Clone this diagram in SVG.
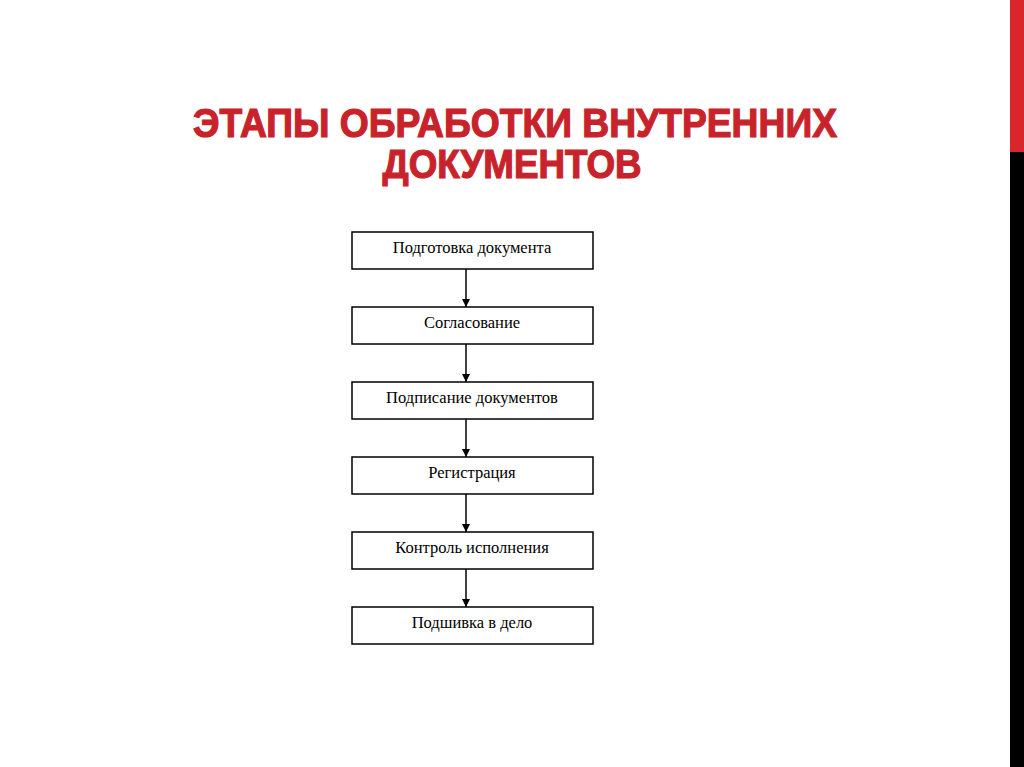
<svg xmlns="http://www.w3.org/2000/svg" width="1024" height="767" viewBox="0 0 1024 767">
<defs>
<style>
.box{fill:#fff;stroke:#000;stroke-width:1.5}
.lbl{font-family:"Liberation Serif","Times New Roman",serif;font-size:16.5px;fill:#000;text-anchor:middle}
.ttl{font-family:"Liberation Sans",Arial,sans-serif;font-weight:bold;font-size:40px;fill:#c8232b;stroke:#c8232b;stroke-width:1.2;text-anchor:middle}
.conn line{stroke:#000;stroke-width:1.5;marker-end:url(#ah)}
</style>
<marker id="ah" viewBox="0 0 10 10" refX="10" refY="5" markerWidth="8" markerHeight="8" markerUnits="userSpaceOnUse" orient="auto">
<path d="M0,0 L10,5 L0,10 z" fill="#000"/>
</marker>
</defs>
<rect width="1024" height="767" fill="#fff"/>
<rect x="1010" y="0" width="14" height="152" fill="#d9262b"/>
<rect x="1010" y="152" width="14" height="615" fill="#000"/>
<g id="title">
<text class="ttl" x="515" y="137" textLength="644" lengthAdjust="spacingAndGlyphs">ЭТАПЫ ОБРАБОТКИ ВНУТРЕННИХ</text>
<text class="ttl" x="512" y="178" textLength="259" lengthAdjust="spacingAndGlyphs">ДОКУМЕНТОВ</text>
</g>
<g id="connectors" class="conn">
<line x1="466" y1="269" x2="466" y2="307"/>
<line x1="466" y1="344" x2="466" y2="382"/>
<line x1="466" y1="419" x2="466" y2="457"/>
<line x1="466" y1="494" x2="466" y2="532"/>
<line x1="466" y1="569" x2="466" y2="607"/>
</g>
<g id="n1"><rect class="box" x="352" y="232" width="241" height="37"/><text class="lbl" x="472" y="253">Подготовка документа</text></g>
<g id="n2"><rect class="box" x="352" y="307" width="241" height="37"/><text class="lbl" x="472" y="328">Согласование</text></g>
<g id="n3"><rect class="box" x="352" y="382" width="241" height="37"/><text class="lbl" x="472" y="403">Подписание документов</text></g>
<g id="n4"><rect class="box" x="352" y="457" width="241" height="37"/><text class="lbl" x="472" y="478">Регистрация</text></g>
<g id="n5"><rect class="box" x="352" y="532" width="241" height="37"/><text class="lbl" x="472" y="553">Контроль исполнения</text></g>
<g id="n6"><rect class="box" x="352" y="607" width="241" height="37"/><text class="lbl" x="472" y="628">Подшивка в дело</text></g>
</svg>
